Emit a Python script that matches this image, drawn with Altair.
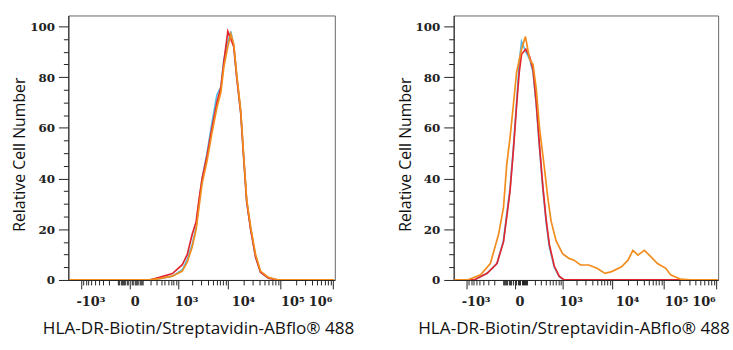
import altair as alt
import pandas as pd

# ---------------- data (fluorescence units, % of max) ----------------
SYMLOG_C = 137
X_DOMAIN = [-1880, 1.083e6]
Y_DOMAIN = [0, 104.3]

left_x = [-1800, 189, 366, 748, 1227, 1557, 1968, 2366, 2713, 3110, 3895, 4870,
          6080, 7260, 8290, 9880, 11290, 12860, 14660, 17470, 19940, 22700,
          27070, 33630, 41780, 59190, 91400, 1.05e6]
left_red = [0, 0, 1, 2.5, 6, 10, 18, 23, 32, 40, 49, 60, 70, 76, 86, 98, 95, 92,
            80, 66, 48, 31, 20, 9, 3, 0.7, 0, 0]
left_blue = [0, 0, 0.5, 1.5, 4, 8, 14, 21, 31, 40, 50, 62, 73, 76, 87, 94, 98, 92,
             80, 66, 48, 31, 20, 9, 3, 0.7, 0, 0]
left_orange = [0, 0, 0.5, 1.5, 3.5, 7, 13, 20, 29, 38, 47, 58, 68, 74, 84, 92, 97,
               93, 81, 67, 49, 32, 21, 10, 3.5, 1, 0, 0]

right_x_ctrl = [-1800, -685, -324, -162, -87, -57, -31, -8, 12.5, 31, 48.6, 86.7,
                129, 171, 218, 273, 338, 411, 496, 649, 840, 1076, 1.05e6]
right_blue = [0, 0, 2.6, 6.5, 15.6, 26, 36, 52, 70, 86, 94, 90, 87, 82, 69, 52, 36,
              23, 13, 5, 1.3, 0, 0]
right_red = [0, 0, 2.6, 6.5, 15, 25, 35, 51, 69, 82, 89, 91, 88, 83, 70, 53, 37,
             24, 14, 5.5, 1.5, 0, 0]

right_x_orange = [-1800, -962, -479, -263, -141, -87, -57, -31, -8, 12.5, 48.6,
                  83.7, 129, 171, 218, 273, 373, 454, 544, 710, 995, 1369, 1736,
                  2366, 3450, 5025, 7260, 9770, 15130, 20180, 25140, 31240, 41780,
                  55900, 74500, 107400, 133400, 205800, 317300, 1.05e6]
right_orange = [0, 0, 2, 6.5, 18, 28.6, 45.6, 56, 69, 82, 91, 96, 87, 85, 75.5, 60,
                44, 32.5, 23.4, 15.6, 10.4, 8.5, 7.8, 5.9, 5.9, 4.6, 2.6, 3.3, 5.2,
                7.8, 11.7, 9.8, 11.7, 9.1, 6.5, 4.6, 2, 0.3, 0, 0]

COLORS = {"blue": "#55bde9", "red": "#e3262d", "orange": "#f28c1c"}

x_major = [-1000, 0, 1000, 10000, 100000, 1000000]
x_major_labels = ["-10³", "0", "10³", "10⁴", "10⁵", "10⁶"]
x_minor = ([-m * 100 for m in range(2, 10)] + [-m * 10 for m in range(1, 10)] +
           [m * 10 for m in range(1, 10)] + [m * 100 for m in range(1, 10)] +
           [m * 1000 for m in range(2, 10)] + [m * 10000 for m in range(2, 10)] +
           [m * 100000 for m in range(2, 10)])
y_ticks = list(range(0, 101, 5))

TICK_FONT = "DejaVu Serif"
TITLE_FONT = "Open Sans"
XTITLE = "HLA-DR-Biotin/Streptavidin-ABflo® 488"
YTITLE = "Relative Cell Number"

x_label_expr = " : ".join(
    f"datum.value == {v} ? '{t}'" for v, t in zip(x_major, x_major_labels)
) + " : ''"
major_test = "indexof([-1000, 0, 1000, 10000, 100000, 1000000], datum.value) >= 0"

label_offsets = {-1000: 9, 0: 5, 1000: 8, 10000: 15, 100000: 12, 1000000: -13}


def x_enc(title_x):
    return alt.X(
        "x:Q",
        scale=alt.Scale(type="symlog", constant=SYMLOG_C, domain=X_DOMAIN,
                        nice=False, zero=False),
        axis=alt.Axis(
            title=XTITLE, values=sorted(x_major + x_minor), labelExpr=x_label_expr,
            tickSize={"condition": {"test": major_test, "value": 9}, "value": 5},
            labelOffset={
                "condition": [{"test": f"datum.value == {k}", "value": v}
                              for k, v in label_offsets.items()],
                "value": 0},
            labelAlign="center", labelBaseline="top",
            labelFlush=False, labelOverlap=False, grid=False,
            labelFont=TICK_FONT, labelFontSize=13, labelFontWeight="bold",
            labelColor="#222", labelPadding=7, tickColor="#222", domainColor="#222",
            titleFont=TITLE_FONT, titleFontSize=17.3, titleFontWeight="normal",
            titleColor="#111", titleX=title_x, titleY=49, titleBaseline="middle",
            titleAlign="center",
        ),
    )


def y_enc():
    return alt.Y(
        "y:Q",
        scale=alt.Scale(domain=Y_DOMAIN, nice=False),
        axis=alt.Axis(
            title=YTITLE, values=y_ticks,
            labelExpr="datum.value % 20 == 0 ? datum.label : ''",
            tickSize={"condition": {"test": "datum.value % 20 == 0", "value": 10},
                      "value": 5},
            grid=False, labelFont=TICK_FONT, labelFontSize=12,
            labelFontWeight="bold", labelColor="#222", labelPadding=4,
            tickColor="#222", domainColor="#222",
            titleFont=TITLE_FONT, titleFontSize=16, titleFontWeight="normal",
            titleColor="#111", titleX=-49, titleY=140, titleBaseline="middle",
            titleAlign="center",
        ),
    )


def series(xs, ys, color, title_x):
    df = pd.DataFrame({"x": xs, "y": ys})
    return alt.Chart(df).mark_line(color=COLORS[color], strokeWidth=1.7,
                                   clip=True).encode(x=x_enc(title_x), y=y_enc())


left = alt.layer(
    series(left_x, left_blue, "blue", 131),
    series(left_x, left_red, "red", 131),
    series(left_x, left_orange, "orange", 131),
).properties(width=269, height=267)

right = alt.layer(
    series(right_x_ctrl, right_blue, "blue", 121),
    series(right_x_ctrl, right_red, "red", 121),
    series(right_x_orange, right_orange, "orange", 121),
).properties(width=267, height=267)

chart = alt.hconcat(left, right, spacing=42).configure_view(
    stroke="#666", strokeWidth=1
).properties(padding={"left": 11, "top": 13, "right": 3, "bottom": 3}, background="white")

chart.save("out.html", embed_options={"renderer": "svg", "actions": False})
